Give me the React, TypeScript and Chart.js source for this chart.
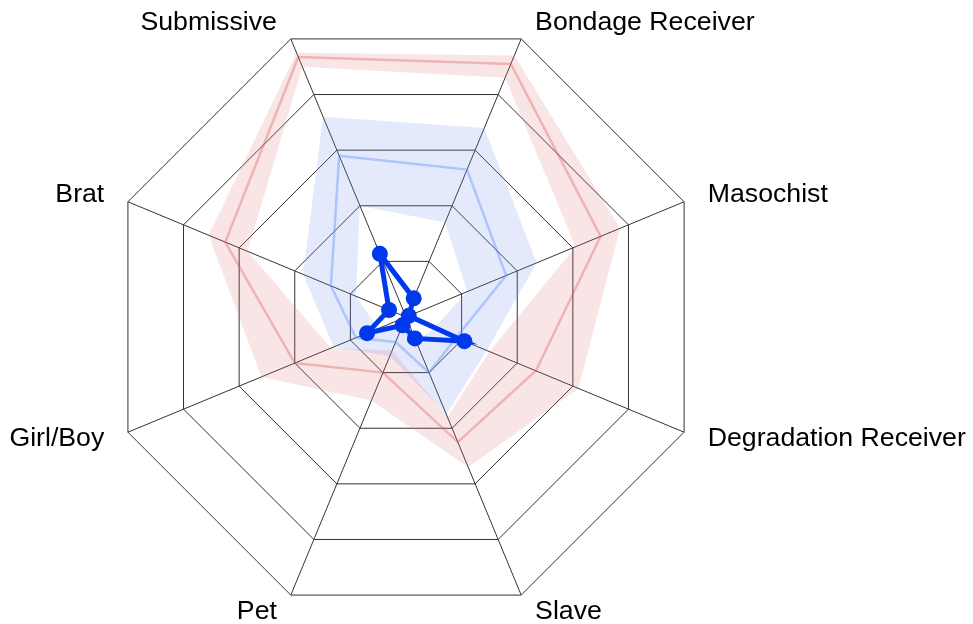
import React, { useEffect, useRef } from "react";
import { Chart, registerables } from "chart.js";

Chart.register(...registerables);

const categories = [
  "Submissive",
  "Bondage Receiver",
  "Masochist",
  "Degradation Receiver",
  "Slave",
  "Pet",
  "Girl/Boy",
  "Brat",
];

const redUpper = [95, 94, 77, 62, 54, 30, 52, 71];
const redMiddle = [93.5, 91, 70, 46.7, 45, 20, 40, 65];
const redLower = [90, 86, 61, 30, 36, 12, 27, 57];

const blueUpper = [72, 68, 47, 29, 35, 14, 26, 37];
const blueMiddle = [58, 53, 36, 18, 20, 9, 18, 27];
const blueLower = [40, 34, 22, 10, 9, 4, 10, 18];

const userScores = [22.7, 6.7, 1, 21, 7.7, 3, 14, 6.1];

const tickValues = [0, 20, 40, 60, 80, 100];

const labelPlugin = {
  id: "outerLabels",
  afterDraw(chart: any) {
    const scale = chart.scales.r;
    const ctx = chart.ctx;
    ctx.save();
    ctx.font = "26.7px 'Liberation Sans', Arial, sans-serif";
    ctx.fillStyle = "#000";
    ctx.textBaseline = "middle";
    const labels = chart.data.labels as string[];
    labels.forEach((lab, i) => {
      const p = scale.getPointPosition(i, scale.drawingArea + 18);
      const right = p.x > scale.xCenter;
      ctx.textAlign = right ? "left" : "right";
      ctx.fillText(lab, p.x + (right ? 7 : -7), p.y);
    });
    ctx.restore();
  },
};

export default function App() {
  const canvasRef = useRef<HTMLCanvasElement | null>(null);

  useEffect(() => {
    if (!canvasRef.current) return;
    const chart = new Chart(canvasRef.current, {
      type: "radar",
      data: {
        labels: categories,
        datasets: [
          {
            label: "You",
            data: userScores,
            borderColor: "rgb(0, 56, 235)",
            backgroundColor: "rgb(0, 56, 235)",
            borderWidth: 5,
            pointRadius: 8,
            pointBorderWidth: 0,
            pointBackgroundColor: "rgb(0, 56, 235)",
            fill: false,
          },
          {
            label: "Blue middle",
            data: blueMiddle,
            borderColor: "rgba(90, 140, 250, 0.4)",
            borderWidth: 2.5,
            pointRadius: 0,
            fill: false,
          },
          {
            label: "Blue upper",
            data: blueUpper,
            borderColor: "rgba(0,0,0,0)",
            borderWidth: 0,
            pointRadius: 0,
            backgroundColor: "rgba(110, 145, 240, 0.19)",
            fill: "+1",
          },
          {
            label: "Blue lower",
            data: blueLower,
            borderColor: "rgba(0,0,0,0)",
            borderWidth: 0,
            pointRadius: 0,
            fill: false,
          },
          {
            label: "Red middle",
            data: redMiddle,
            borderColor: "rgba(215, 90, 90, 0.35)",
            borderWidth: 2.5,
            pointRadius: 0,
            fill: false,
          },
          {
            label: "Red upper",
            data: redUpper,
            borderColor: "rgba(0,0,0,0)",
            borderWidth: 0,
            pointRadius: 0,
            backgroundColor: "rgba(220, 110, 110, 0.18)",
            fill: "+1",
          },
          {
            label: "Red lower",
            data: redLower,
            borderColor: "rgba(0,0,0,0)",
            borderWidth: 0,
            pointRadius: 0,
            fill: false,
          },
        ],
      },
      options: {
        animation: false,
        responsive: true,
        maintainAspectRatio: false,
        layout: { padding: { left: 0, right: 160, top: 16, bottom: 6 } },
        plugins: {
          legend: { display: false },
          tooltip: { enabled: false },
        },
        elements: { line: { tension: 0 } },
        scales: {
          r: {
            min: tickValues[0],
            max: tickValues[tickValues.length - 1],
            startAngle: -22.5,
            ticks: { stepSize: 20, display: false },
            grid: { color: "#333", lineWidth: 1 },
            angleLines: { color: "#333", lineWidth: 1 },
            pointLabels: { display: false },
          },
        },
      },
      plugins: [labelPlugin],
    });
    return () => chart.destroy();
  }, []);

  return (
    <div style={{ position: "absolute", left: 0, top: 0, width: "973px", height: "624px" }}>
      <canvas ref={canvasRef} />
    </div>
  );
}
